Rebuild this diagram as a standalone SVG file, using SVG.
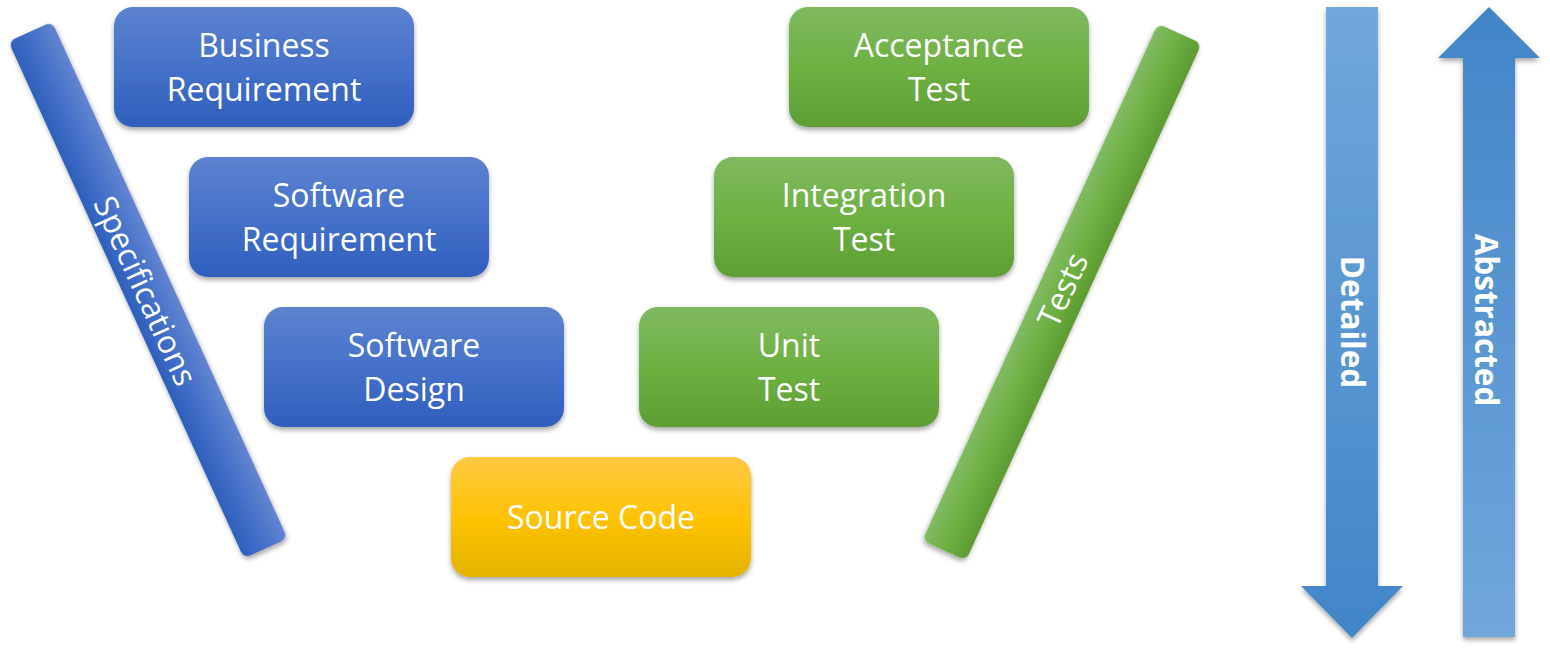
<svg xmlns="http://www.w3.org/2000/svg" width="1550" height="651" viewBox="0 0 1550 651">
<defs>
<linearGradient id="gBlue" x1="0" y1="0" x2="0" y2="1">
<stop offset="0" stop-color="#5D82CF"/>
<stop offset="0.5" stop-color="#4571C9"/>
<stop offset="1" stop-color="#2F5EBC"/>
</linearGradient>
<linearGradient id="gGreen" x1="0" y1="0" x2="0" y2="1">
<stop offset="0" stop-color="#80B961"/>
<stop offset="0.5" stop-color="#6EB042"/>
<stop offset="1" stop-color="#5E9E34"/>
</linearGradient>
<linearGradient id="gYellow" x1="0" y1="0" x2="0" y2="1">
<stop offset="0" stop-color="#FFC843"/>
<stop offset="0.5" stop-color="#FFC305"/>
<stop offset="1" stop-color="#E5B200"/>
</linearGradient>
<linearGradient id="gSpec" x1="0" y1="0" x2="1" y2="0">
<stop offset="0" stop-color="#2F5EBC"/>
<stop offset="0.5" stop-color="#4571C9"/>
<stop offset="1" stop-color="#6285CF"/>
</linearGradient>
<linearGradient id="gTests" x1="0" y1="0" x2="1" y2="0">
<stop offset="0" stop-color="#82BA63"/>
<stop offset="0.5" stop-color="#6EB042"/>
<stop offset="1" stop-color="#5C9B33"/>
</linearGradient>
<linearGradient id="gDown" x1="0" y1="0" x2="0" y2="1">
<stop offset="0" stop-color="#71A7DB"/>
<stop offset="1" stop-color="#4185C8"/>
</linearGradient>
<linearGradient id="gUp" x1="0" y1="0" x2="0" y2="1">
<stop offset="0" stop-color="#4185C8"/>
<stop offset="1" stop-color="#71A7DB"/>
</linearGradient>
<filter id="sh" x="-10%" y="-10%" width="120%" height="130%">
<feDropShadow dx="0" dy="3" stdDeviation="2.5" flood-color="#000" flood-opacity="0.35"/>
</filter>
</defs>
<style>
.box{filter:url(#sh);}
.t{font-family:"Open Sans","Noto Sans","Liberation Sans",sans-serif;font-size:32px;fill:#fff;text-anchor:middle;}
.tb{font-family:"Open Sans","Noto Sans","Liberation Sans",sans-serif;font-size:31.5px;font-weight:bold;fill:#fff;text-anchor:middle;}
</style>
<rect width="1550" height="651" fill="#fff"/>

<g id="specifications">
<g transform="translate(148,290) rotate(-24.5)">
<rect class="box" x="-24" y="-284" width="48" height="568" rx="7" fill="url(#gSpec)"/>
</g>
<text class="t" transform="translate(145,291) rotate(65.5)" y="11">Specifications</text>
</g>

<g id="tests">
<g transform="translate(1062,292) rotate(24.5)">
<rect class="box" x="-24" y="-284" width="48" height="568" rx="7" fill="url(#gTests)"/>
</g>
<text class="t" transform="translate(1063,290) rotate(-65.5)" y="11">Tests</text>
</g>

<g id="business-requirement">
<rect class="box" x="114" y="7" width="300" height="120" rx="19" fill="url(#gBlue)"/>
<text class="t" x="264" y="57">Business</text>
<text class="t" x="264" y="101">Requirement</text>
</g>
<g id="software-requirement">
<rect class="box" x="189" y="157" width="300" height="120" rx="19" fill="url(#gBlue)"/>
<text class="t" x="339" y="207">Software</text>
<text class="t" x="339" y="251">Requirement</text>
</g>
<g id="software-design">
<rect class="box" x="264" y="307" width="300" height="120" rx="19" fill="url(#gBlue)"/>
<text class="t" x="414" y="357">Software</text>
<text class="t" x="414" y="401">Design</text>
</g>
<g id="source-code">
<rect class="box" x="451" y="457" width="300" height="120" rx="19" fill="url(#gYellow)"/>
<text class="t" x="601" y="529">Source Code</text>
</g>
<g id="unit-test">
<rect class="box" x="639" y="307" width="300" height="120" rx="19" fill="url(#gGreen)"/>
<text class="t" x="789" y="357">Unit</text>
<text class="t" x="789" y="401">Test</text>
</g>
<g id="integration-test">
<rect class="box" x="714" y="157" width="300" height="120" rx="19" fill="url(#gGreen)"/>
<text class="t" x="864" y="207">Integration</text>
<text class="t" x="864" y="251">Test</text>
</g>
<g id="acceptance-test">
<rect class="box" x="789" y="7" width="300" height="120" rx="19" fill="url(#gGreen)"/>
<text class="t" x="939" y="57">Acceptance</text>
<text class="t" x="939" y="101">Test</text>
</g>

<g id="connectors">
<g id="detailed">
<path class="box" d="M1326,7 H1378 V586 H1403 L1352,638 L1301,586 H1326 Z" fill="url(#gDown)"/>
<text class="tb" transform="translate(1352,322) rotate(90)" y="11">Detailed</text>
</g>
<g id="abstracted">
<path class="box" d="M1489,7 L1540,58 H1515 V637 H1463 V58 H1438 Z" fill="url(#gUp)"/>
<text class="tb" transform="translate(1487,320) rotate(90)" y="12">Abstracted</text>
</g>
</g>
</svg>
